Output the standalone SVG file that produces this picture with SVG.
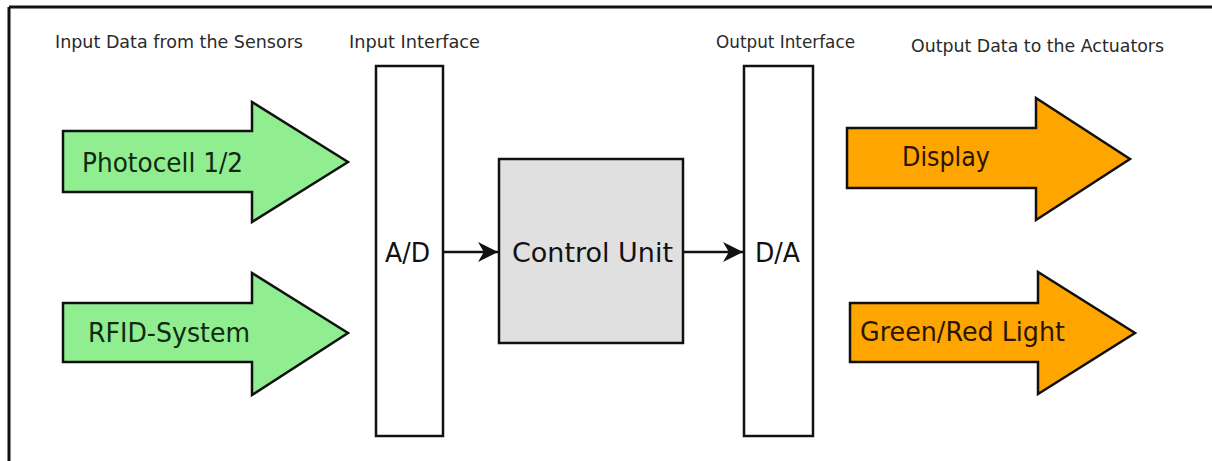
<svg xmlns="http://www.w3.org/2000/svg" width="1212" height="461" viewBox="0 0 1212 461">
<defs>
<style>
.lbl{font-family:"DejaVu Sans","Liberation Sans",sans-serif;font-size:17px;fill:#2a2a2a}
.big{font-family:"DejaVu Sans","Liberation Sans",sans-serif;font-size:27px}
.gin{fill:#90EE90;stroke:#111;stroke-width:2.5;stroke-linejoin:miter}
.out{fill:#FFA500;stroke:#111;stroke-width:2.5;stroke-linejoin:miter}
.box{fill:#fff;stroke:#111;stroke-width:2.5}
.cu{fill:#e0e0e0;stroke:#111;stroke-width:2.5}
.con{stroke:#111;stroke-width:2.5;fill:none}
</style>
<marker id="ah" viewBox="0 0 12 12" refX="12" refY="6" markerWidth="8" markerHeight="8" orient="auto" markerUnits="strokeWidth">
<path d="M0,0 L12,6 L0,12 L3.5,6 z" fill="#111"/>
</marker>
</defs>
<rect x="0" y="0" width="1212" height="461" fill="#fff"/>
<g id="frame">
<line x1="9" y1="7" x2="1212" y2="7" stroke="#111" stroke-width="3"/>
<line x1="9" y1="7" x2="9" y2="461" stroke="#111" stroke-width="3"/>
</g>
<g id="labels">
<text class="lbl" x="55" y="48" textLength="248" lengthAdjust="spacingAndGlyphs">Input Data from the Sensors</text>
<text class="lbl" x="349" y="48" textLength="131" lengthAdjust="spacingAndGlyphs">Input Interface</text>
<text class="lbl" x="716" y="48" textLength="139" lengthAdjust="spacingAndGlyphs">Output Interface</text>
<text class="lbl" x="911" y="52" textLength="253" lengthAdjust="spacingAndGlyphs">Output Data to the Actuators</text>
</g>
<g id="photocell">
<polygon class="gin" points="63,131 252,131 252,102 348,162 252,222 252,192 63,192"/>
<text class="big" x="82" y="172" fill="#0f2a0f" textLength="161" lengthAdjust="spacingAndGlyphs">Photocell 1/2</text>
</g>
<g id="rfid">
<polygon class="gin" points="63,303 252,303 252,273 348,333 252,395 252,362 63,362"/>
<text class="big" x="88" y="342" fill="#0f2a0f" textLength="162" lengthAdjust="spacingAndGlyphs">RFID-System</text>
</g>
<g id="input-interface">
<rect class="box" x="376" y="66" width="67" height="370"/>
<text class="big" x="385" y="262" fill="#111" textLength="45" lengthAdjust="spacingAndGlyphs">A/D</text>
</g>
<g id="control-unit">
<rect class="cu" x="499" y="159" width="184" height="184"/>
<text class="big" x="512" y="262" fill="#111" font-size="30" textLength="161" lengthAdjust="spacingAndGlyphs">Control Unit</text>
</g>
<g id="output-interface">
<rect class="box" x="744" y="66" width="69" height="370"/>
<text class="big" x="755" y="262" fill="#111" textLength="45" lengthAdjust="spacingAndGlyphs">D/A</text>
</g>
<g id="display">
<polygon class="out" points="847,128 1036,128 1036,98 1130,159 1036,220 1036,188 847,188"/>
<text class="big" x="902" y="166" fill="#2a1500" textLength="88" lengthAdjust="spacingAndGlyphs">Display</text>
</g>
<g id="green-red-light">
<polygon class="out" points="850,303 1038,303 1038,272 1135,333 1038,394 1038,362 850,362"/>
<text class="big" x="860" y="341" fill="#2a1500" textLength="205" lengthAdjust="spacingAndGlyphs">Green/Red Light</text>
</g>
<g id="connectors">
<line class="con" x1="443" y1="252" x2="498" y2="252" marker-end="url(#ah)"/>
<line class="con" x1="683" y1="252" x2="743" y2="252" marker-end="url(#ah)"/>
</g>
</svg>
